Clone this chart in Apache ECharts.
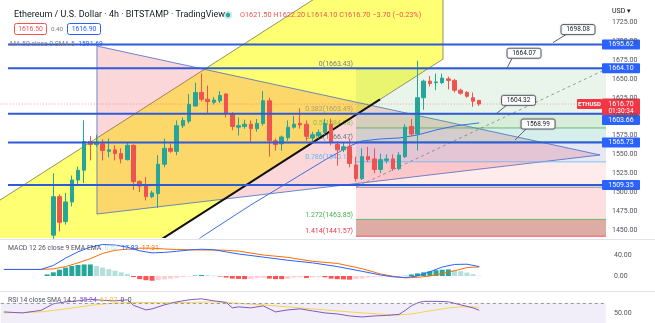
<!DOCTYPE html>
<html><head><meta charset="utf-8">
<script src="https://cdn.jsdelivr.net/npm/echarts@6/dist/echarts.min.js"></script>
<style>html,body{margin:0;padding:0;background:#fff;overflow:hidden}#c{width:655px;height:323px}</style>
</head><body><div id="c"></div>
<script>
// ---------------- DATA ----------------
const slotCount = 98;          // time slots on the x axis
const firstCandleSlot = 8;     // slot of first visible candle
const candleOpen = [1443,1494,1461,1487,1516,1529,1567,1563,1564,1554,
  1556,1551,1543,1562,1514,1508,1494,1498,1537,1558,
  1554,1588,1594,1614,1632,1623,1619,1621,1630,1604,
  1586,1587,1590,1584,1591,1621,1568,1564,1572,1586,
  1591,1590,1572,1575,1579,1590,1563,1556,1560,1536,
  1518,1547,1544,1530,1542,1544,1531,1547,1587,1577,
  1625,1647,1645,1645,1650,1648,1635,1632,1625,1621.5];
const candleClose = [1494,1460,1487,1516,1529,1567,1563,1566,1555,1556,
  1551,1544,1562,1514,1508,1494,1499,1537,1558,1554,
  1588,1595,1616,1632,1623,1620,1622,1628,1604,1587,
  1588,1590,1584,1591,1621,1568,1563,1573,1586,1590,
  1589,1574,1576,1579,1591,1566,1556,1560,1538,1518,
  1547,1543,1530,1543,1544,1531,1549,1586,1577,1625,
  1647,1644,1646,1651,1648,1635,1631,1627,1620.4,1616.7];
const candleLow = [1438,1448,1457,1481,1510,1512,1542,1560,1542,1546,
  1542,1538,1542,1503,1500,1489,1492,1479,1533,1552,
  1549,1585,1591,1614,1620,1604,1616,1618,1599,1582,
  1575,1584,1566,1580,1588,1547,1555,1555,1568,1584,
  1584,1568,1568,1571,1576,1562,1535,1553,1533,1514,
  1516,1540,1525,1525,1538,1528,1529,1545,1574,1555,
  1609,1640,1635,1643,1636,1632,1629,1625,1613,1614.1];
const candleHigh = [1525,1497,1499,1522,1534,1595,1574,1576,1570,1571,
  1562,1558,1565,1563,1516,1520,1502,1549,1571,1564,
  1595,1599,1630,1645,1657,1641,1626,1634,1631,1606,
  1599,1596,1595,1597,1634,1625,1571,1575,1595,1601,
  1611,1595,1580,1583,1597,1597,1567,1565,1571,1547,
  1558,1560,1558,1551,1550,1550,1553,1590,1597,1674,
  1649,1654,1657,1657,1653,1650,1637,1634,1632,1622.2];
const lastPrice = 1616.70;
const priceTicks = [1450,1475,1500,1525,1550,1575,1600,1625,1650,1675,1700,1725];
const hLevels = [1695.62, 1664.10, 1603.66, 1565.73, 1509.35];
const maPoints = [[30,1427],[32,1440.6],[36,1461.8],[40,1483],[44,1502.8],[48,1522.7],[52,1542.5],
  [56,1561],[58,1567.7],[61,1570.4],[64,1571.7],[67,1575.7],[70,1582.3],[73,1587.6],[77,1591.69]];
const fibLevels = [0, 0.382, 0.5, 0.618, 0.786, 1, 1.272, 1.414];
const fibPrices = [1663.43, 1603.49, 1584.98, 1566.47, 1540.11, 1506.53, 1463.85, 1441.57];
const notePrices = [1698.08, 1664.07, 1604.32, 1568.99];
const macdHist = [null,null,null,null,null,null,null,
  3,7,12,16,19,21,22,22,19,16,13,10,7,4,-2,-6,-8,-9,-8,-6.5,-5,-3.5,-2,-0.8,1,2,1.5,0.5,-1,-3,
  -5,-5.5,-6,-5.5,-4,-3.5,-5,-6,-6,-5.5,-3,-2.5,-4,-2.5,-2,-2.5,-5,-6,-6.5,-7,-6,-5,-3,-2,-1.5,
  -1,-1,-0.5,0.5,3,5,7,9,11,12,12.5,11,9,6.5,3.5,0.52];
const macdLine = [[0,12.5],[6,12.5],[8,20],[10,34],[12,46],[14,55],[16,60],[18,59],[20,55],[22,48],[24,44],
  [26,45],[28,47],[30,49.5],[32,51],[34,50],[36,46],[38,42],[42,36],[46,30],[50,25],[54,18],[58,9],
  [61,2],[63,-1.5],[65,-3],[67,0],[69,8],[71,17],[73,22],[75,22.5],[77,17.83]];
const signalLine = [[0,12.5],[6,12.5],[8,13.5],[10,18],[12,25],[14,33],[16,43],[18,49],[20,51],[22,53],
  [24,53],[26,51.5],[28,50.5],[30,50],[32,49.5],[34,49.5],[36,49],[38,47.5],[42,40],[46,35.5],[50,28],
  [54,24],[58,14],[61,4],[63,-0.5],[65,-3.5],[67,-2.5],[69,0],[71,5],[73,10],[75,16],[77,17.31]];
const rsiLine = [[0,52],[3,50],[6,55],[8,68],[10,72],[12,74],[14,77],[16,75],[18,74],[20,76],[21,65],
  [23,56],[24,58],[26,66],[28,72],[30,76],[32,78],[34,74],[36,71],[37,60],[38,62],[40,60],[42,64],
  [44,52],[46,56],[48,58],[50,54],[52,50],[54,48],[56,44],[58,42],[60,44],[62,45],[64,47],[65,55],
  [66,64],[67,70],[68,73],[70,73],[72,72],[74,66],[76,60],[77,55.24]];
const rsiMA = [[0,50],[6,52],[10,58],[14,65],[18,70],[22,71],[26,70],[30,71],[34,72],[38,69],[42,66],
  [46,62],[50,58],[54,54],[58,50],[62,47],[64,46],[66,48],[68,52],[70,56],[72,60],[74,62],[76,62],[77,61.07]];
const macdTicks = [0, 40];
const rsiTicks = [50];

// -------------- DRAWINGS (anchor points in slot/price space) --------------
const channel = { top: [[-5.49,1464.0],[71.13,1864.9]], bottom: [[-5.49,1275.3],[71.13,1676.2]] };
const blackTrend = [[23.67,1427.8],[60.93,1622.8]];
const triangle = [[15.08,1693.5],[15.08,1471.0],[96.57,1549.2]];
const fibStart = 57.04, fibEnd = 98.5, fibDiagEnd = 97.7;
const rayStart = 0.67;
const noteSlots = [88.95, 81.5, 79.8, 82.8];
const noteOffsets = [[25,-13],[17,-15],[22,-13],[23,-16]];

// ---------------- STYLE ----------------
const FONT = 'Roboto, "DejaVu Sans", sans-serif';
const UP = '#26a69a', DOWN = '#ef5350', BLUE = '#2962ff';
const fibBandColors = ['rgba(76,175,80,0.12)','rgba(76,175,80,0.22)','rgba(0,150,136,0.16)',
  'rgba(63,81,181,0.13)','rgba(242,54,69,0.10)','rgba(242,54,69,0.16)','rgba(175,60,40,0.42)'];
const fibLineColors = ['#787b86','#a8a070','#4caf50','#089981','#64b5f6','#787b86','#4caf50','#f23645'];
const fibLabelColors = ['#787b86','#a8a070','#8bc34a','#5d7d8a','#64b5f6','#787b86','#4caf50','#f23645'];
const fibLabelShown = [true,true,true,true,true,false,true,true];

const slots = Array.from({length: slotCount}, (_, i) => 's' + i);
const candleData = slots.map((_, i) => {
  const k = i - firstCandleSlot;
  return (k >= 0 && k < candleOpen.length) ? [candleOpen[k], candleClose[k], candleLow[k], candleHigh[k]] : '-';
});
const histData = slots.map((_, i) => (macdHist[i] == null ? '-' : macdHist[i]));

const chart = echarts.init(document.getElementById('c'));

function P(api, pt) { return api.coord(pt); }
function seg(api, a, b, style) {
  const p = P(api, a), q = P(api, b);
  return { type: 'line', shape: { x1: p[0], y1: p[1], x2: q[0], y2: q[1] }, style };
}
function poly(api, pts, style) {
  return { type: 'polygon', shape: { points: pts.map(p => P(api, p)) }, style };
}
function drawSeries(z, build, clip) {
  return { type: 'custom', xAxisIndex: 1, yAxisIndex: 0, z, silent: true, clip: clip !== false,
    data: [[50, 1600]], renderItem: (params, api) => ({ type: 'group', children: build(api) }) };
}

const grids = [
  { left: 0.8, width: 605, top: 0, height: 238 },
  { left: 0.8, width: 605, top: 241, height: 50 },
  { left: 0.8, width: 605, top: 292, height: 40 }
];
const valX = (gi) => ({ type: 'value', gridIndex: gi, min: -0.5, max: slotCount - 0.5, show: false });
const catX = (gi) => ({ type: 'category', gridIndex: gi, data: slots, show: false, boundaryGap: true });
const yAx = (gi, min, max) => ({ type: 'value', gridIndex: gi, min, max, position: 'right', show: true,
  axisLine: { show: false }, axisTick: { show: false }, splitLine: { show: false }, axisLabel: { show: false } });

const option = {
  animation: false,
  grid: grids,
  xAxis: [catX(0), valX(0), catX(1), valX(1), valX(2)],
  yAxis: [yAx(0, 1439.24, 1754.47), yAx(1, -28.57, 66.67), yAx(2, 30, 91.54)],
  series: [
    // yellow parallel channel
    drawSeries(1, api => [
      poly(api, [channel.top[0], channel.top[1], channel.bottom[1], channel.bottom[0]],
        { fill: 'rgba(255,255,0,0.55)', stroke: 'none' }),
      seg(api, channel.top[0], channel.top[1], { stroke: 'rgba(120,120,70,0.8)', lineWidth: 1 }),
      seg(api, channel.bottom[0], channel.bottom[1], { stroke: 'rgba(120,120,70,0.8)', lineWidth: 1 }),
      seg(api, channel.top[1], channel.bottom[1], { stroke: 'rgba(120,120,70,0.8)', lineWidth: 1 })
    ]),
    // pink triangle
    drawSeries(2, api => [
      poly(api, triangle, { fill: 'rgba(242,54,69,0.2)', stroke: 'rgba(70,110,200,0.8)', lineWidth: 1 })
    ]),
    // fibonacci retracement
    drawSeries(3, api => {
      const ch = [];
      for (let i = 0; i < fibPrices.length - 1; i++) {
        ch.push(poly(api, [[fibStart, fibPrices[i]], [fibEnd, fibPrices[i]], [fibEnd, fibPrices[i + 1]], [fibStart, fibPrices[i + 1]]],
          { fill: fibBandColors[i], stroke: 'none' }));
      }
      fibPrices.forEach((p, i) => {
        ch.push(seg(api, [fibStart, p], [fibEnd, p], { stroke: fibLineColors[i], lineWidth: 1, opacity: 0.8 }));
        if (fibLabelShown[i]) {
          const c = P(api, [fibStart, p]);
          ch.push({ type: 'text', x: c[0] - 3, y: c[1] - 1, style: {
            text: fibLevels[i] + '(' + p.toFixed(2) + ')', fill: fibLabelColors[i], fontSize: 7, fontFamily: FONT,
            align: 'right', verticalAlign: 'bottom', textAlign: 'right', textVerticalAlign: 'bottom' } });
        }
      });
      ch.push(seg(api, [fibStart, fibPrices[5]], [fibDiagEnd, fibPrices[0]],
        { stroke: 'rgba(120,123,134,0.75)', lineWidth: 1, lineDash: [3, 3] }));
      return ch;
    }),
    // black trend line
    drawSeries(4, api => [seg(api, blackTrend[0], blackTrend[1], { stroke: '#111', lineWidth: 2 })]),
    // MA 50
    { type: 'line', xAxisIndex: 1, yAxisIndex: 0, data: maPoints, showSymbol: false, z: 4, silent: true,
      lineStyle: { color: '#3d6fe0', width: 1 }, clip: true },
    // candles
    { type: 'candlestick', xAxisIndex: 0, yAxisIndex: 0, data: candleData, barWidth: 4, z: 5,
      itemStyle: { color: UP, color0: DOWN, borderColor: UP, borderColor0: DOWN, borderWidth: 1 } },
    // horizontal rays + last price line
    drawSeries(6, api => {
      const ch = [seg(api, [-0.5, lastPrice], [slotCount, lastPrice], { stroke: 'rgba(242,54,69,0.45)', lineWidth: 1, lineDash: [1, 2] })];
      hLevels.forEach(v => ch.push(seg(api, [rayStart, v], [slotCount, v], { stroke: '#2f5bd8', lineWidth: 2 })));
      return ch;
    }),
    // price notes
    drawSeries(8, api => {
      const ch = [];
      notePrices.forEach((v, i) => {
        const a = P(api, [noteSlots[i], v]);
        const cx = a[0] + noteOffsets[i][0], cy = a[1] + noteOffsets[i][1];
        const w = 34, h = 10;
        ch.push({ type: 'line', shape: { x1: a[0], y1: a[1], x2: cx - w / 2 + 5, y2: cy + h / 2 }, style: { stroke: '#5d606b', lineWidth: 1 } });
        ch.push({ type: 'rect', shape: { x: cx - w / 2, y: cy - h / 2, width: w, height: h, r: 2 },
          style: { fill: '#fff', stroke: '#5d606b', lineWidth: 1, shadowBlur: 2, shadowColor: 'rgba(0,0,0,0.2)' } });
        ch.push({ type: 'text', x: cx, y: cy, style: { text: v.toFixed(2), fill: '#131722', fontSize: 6.5, fontFamily: FONT,
          align: 'center', verticalAlign: 'middle', textAlign: 'center', textVerticalAlign: 'middle' } });
      });
      return ch;
    }, false),
    // MACD
    { type: 'bar', xAxisIndex: 2, yAxisIndex: 1, data: histData, barWidth: 5, silent: true,
      itemStyle: { color: p => {
        const v = macdHist[p.dataIndex], prev = macdHist[p.dataIndex - 1];
        if (v >= 0) return (prev == null || v >= prev) ? UP : '#b2dfdb';
        return (prev == null || v <= prev) ? '#ff5252' : '#ffcdd2';
      } } },
    { type: 'line', xAxisIndex: 3, yAxisIndex: 1, data: signalLine, showSymbol: false, silent: true,
      lineStyle: { color: '#ff6d00', width: 1 } },
    { type: 'line', xAxisIndex: 3, yAxisIndex: 1, data: macdLine, showSymbol: false, silent: true,
      lineStyle: { color: BLUE, width: 1 } },
    // RSI
    { type: 'line', xAxisIndex: 4, yAxisIndex: 2, data: rsiMA, showSymbol: false, silent: true,
      lineStyle: { color: '#f5d44a', width: 1 } },
    { type: 'line', xAxisIndex: 4, yAxisIndex: 2, data: rsiLine, showSymbol: false, silent: true,
      lineStyle: { color: '#7e57c2', width: 1 },
      markArea: { silent: true, itemStyle: { color: 'rgba(126,87,194,0.1)' }, data: [[{ yAxis: 30 }, { yAxis: 70 }]] },
      markLine: { silent: true, symbol: 'none', label: { show: false },
        lineStyle: { color: '#9598a1', type: [3, 3], width: 1 }, data: [{ yAxis: 70 }] } }
  ]
};
chart.setOption(option);

// ---------------- overlay: axis labels, boxes, header ----------------
const yp = (ax, v) => chart.convertToPixel({ yAxisIndex: ax }, v);
const T = (x, y, text, fill, size, extra) => Object.assign({ type: 'text', x, y, z: 100, silent: true,
  style: Object.assign({ text, fill, fontSize: size, fontFamily: FONT, align: 'left', verticalAlign: 'middle',
    textAlign: 'left', textVerticalAlign: 'middle' }, extra || {}) });
const R = (x, y, w, h, fill, stroke, r) => ({ type: 'rect', z: 99, silent: true,
  shape: { x, y, width: w, height: h, r: r || 0 }, style: { fill, stroke: stroke || 'none', lineWidth: 1 } });

const g = [];
// pane separators
g.push({ type: 'line', z: 99, shape: { x1: 0, y1: 239.5, x2: 655, y2: 239.5 }, style: { stroke: '#e0e3eb', lineWidth: 1 } });
g.push({ type: 'line', z: 99, shape: { x1: 0, y1: 291.5, x2: 655, y2: 291.5 }, style: { stroke: '#e0e3eb', lineWidth: 1 } });
// price ticks
priceTicks.forEach(v => g.push(T(612, yp(0, v), v.toFixed(2), '#50535e', 7)));
macdTicks.forEach(v => g.push(T(614, yp(1, v), v.toFixed(2), '#50535e', 7)));
rsiTicks.forEach(v => g.push(T(614, yp(2, v), v.toFixed(2), '#50535e', 7)));
g.push(T(612, 11, 'USD ▾', '#131722', 7));
// last price box
const ly = yp(0, lastPrice);
g.push(R(602, ly - 5.5, 38, 16.5, '#f23645', null, 1));
g.push(T(621, ly, lastPrice.toFixed(2), '#fff', 7, { align: 'center', textAlign: 'center' }));
g.push(T(621, ly + 7.5, '01:30:34', '#fff', 6.5, { align: 'center', textAlign: 'center' }));
g.push(R(577, ly - 5, 25, 10, '#f23645', null, 1));
g.push(T(589.5, ly, 'ETHUSD', '#fff', 6, { align: 'center', textAlign: 'center', fontWeight: 'bold' }));
// level boxes (avoid overlapping the last price box)
hLevels.forEach(v => {
  let y = yp(0, v);
  if (y > ly - 10.5 && y < ly + 16) y = ly + 16;
  g.push(R(602, y - 5, 38, 10, '#2962ff', null, 1));
  g.push(T(621, y, v.toFixed(2), '#fff', 7, { align: 'center', textAlign: 'center' }));
});
// header
g.push(T(14, 15, 'Ethereum / U.S. Dollar · 4h · BITSTAMP · TradingView', '#131722', 9));
g.push({ type: 'circle', z: 100, shape: { cx: 228, cy: 15, r: 4 }, style: { fill: 'rgba(38,166,154,0.25)' } });
g.push({ type: 'circle', z: 100, shape: { cx: 228, cy: 15, r: 2.2 }, style: { fill: UP } });
g.push(T(240, 15, 'O1621.50 H1622.20 L1614.10 C1616.70 −3.70 (−0.23%)', '#ef5350', 7.3));
g.push(R(14.5, 23.5, 32, 11, '#fff', '#ef5350', 2));
g.push(T(30.5, 29, '1616.50', '#ef5350', 6.8, { align: 'center', textAlign: 'center' }));
g.push(T(51, 29, '0.40', '#787b86', 6.2));
g.push(R(67.5, 23.5, 33, 11, '#fff', '#2962ff', 2));
g.push(T(84, 29, '1616.90', '#2962ff', 6.8, { align: 'center', textAlign: 'center' }));
g.push(T(10, 44, '{a|MA 50 close 0 SMA 5}  {b|1591.69}', '#787b86', 6.8, {
  rich: { a: { fill: '#787b86', color: '#787b86', fontSize: 6.8, fontFamily: FONT },
          b: { fill: '#2962ff', color: '#2962ff', fontSize: 6.8, fontFamily: FONT } } }));
// MACD / RSI legends
g.push(T(8, 248, '{a|MACD 12 26 close 9 EMA EMA}  {h|0.52}  {m|17.83}  {s|17.31}', '#555', 6.8, {
  rich: { a: { fill: '#50535e', color: '#50535e', fontSize: 6.8, fontFamily: FONT },
          h: { fill: '#b2dfdb', color: '#b2dfdb', fontSize: 6.8, fontFamily: FONT },
          m: { fill: '#2962ff', color: '#2962ff', fontSize: 6.8, fontFamily: FONT },
          s: { fill: '#ff6d00', color: '#ff6d00', fontSize: 6.8, fontFamily: FONT } } }));
g.push(T(8, 300, '{a|RSI 14 close SMA 14 2}  {r|55.24}  {y|61.07}  {a|0}  {a|0}', '#555', 6.8, {
  rich: { a: { fill: '#50535e', color: '#50535e', fontSize: 6.8, fontFamily: FONT },
          r: { fill: '#7e57c2', color: '#7e57c2', fontSize: 6.8, fontFamily: FONT },
          y: { fill: '#e8c43a', color: '#e8c43a', fontSize: 6.8, fontFamily: FONT } } }));
chart.setOption({ graphic: g });
</script>
</body></html>
